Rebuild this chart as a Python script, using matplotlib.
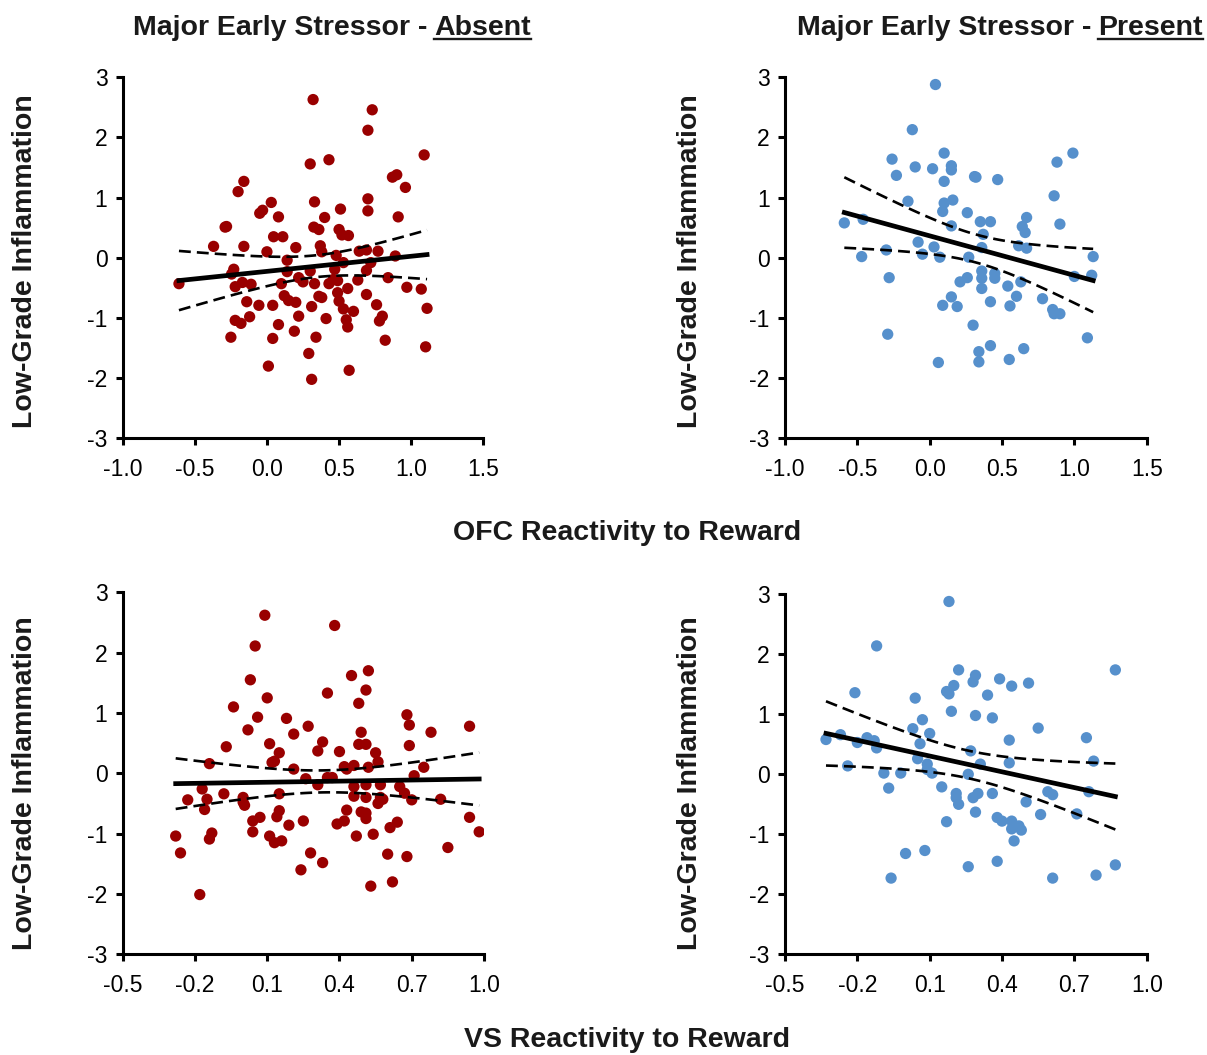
import numpy as np
import matplotlib
matplotlib.use("Agg")
import matplotlib.pyplot as plt

# OFC reactivity vs inflammation, early stressor absent
ofc_absent_x = [-0.61, -0.37, -0.29, -0.28, -0.245, -0.23, -0.22, -0.2, -0.16, -0.16, -0.17, -0.11,
                -0.14, -0.22, -0.18, -0.12, -0.25, -0.056, -0.05, -0.03, 0.03, 0.08, 0.0, 0.046,
                0.11, 0.2, 0.14, 0.14, 0.1, 0.04, 0.12, 0.15, 0.2, 0.08, 0.04, 0.01, 0.19, 0.22,
                0.22, 0.25, 0.3, 0.32, 0.43, 0.33, 0.325, 0.36, 0.4, 0.37, 0.38, 0.3, 0.33, 0.36,
                0.38, 0.31, 0.41, 0.34, 0.29, 0.31, 0.43, 0.47, 0.46, 0.49, 0.48, 0.53, 0.5, 0.52,
                0.565, 0.51, 0.49, 0.5, 0.53, 0.56, 0.55, 0.56, 0.6, 0.57, 0.63, 0.64, 0.69, 0.69,
                0.72, 0.69, 0.7, 0.7, 0.7, 0.73, 0.77, 0.76, 0.8, 0.78, 0.82, 0.84, 0.89, 0.91,
                0.87, 0.9, 0.96, 0.97, 1.07, 1.11, 1.09, 1.1]
ofc_absent_y = [-0.43, 0.19, 0.51, 0.52, -0.27, -0.19, -0.48, 1.1, 1.27, 0.19, -0.41, -0.44,
                -0.73, -1.04, -1.09, -0.98, -1.32, -0.79, 0.74, 0.79, 0.92, 0.68, 0.1, 0.35,
                0.35, 0.17, -0.04, -0.23, -0.43, -0.79, -0.63, -0.71, -0.74, -1.11, -1.34, -1.8,
                -1.22, -0.97, -0.33, -0.4, 1.56, 2.63, 1.63, 0.93, 0.51, 0.47, 0.67, 0.2, 0.1,
                -0.22, -0.43, -0.64, -0.66, -0.81, -1.01, -1.32, -1.59, -2.02, -0.43, -0.19,
                -0.36, -0.38, 0.04, -0.08, 0.47, 0.38, 0.37, 0.81, -0.58, -0.72, -0.85, -0.51,
                -1.03, -1.15, -0.89, -1.87, -0.37, 0.11, 0.13, -0.21, -0.08, -0.61, 0.78, 0.98,
                2.12, 2.46, 0.11, -0.78, -0.97, -1.05, -1.37, -0.33, 0.03, 0.68, 1.34, 1.38,
                1.17, -0.49, -0.52, -0.84, 1.71, -1.48]

# OFC reactivity vs inflammation, early stressor present
ofc_present_x = [-0.59, -0.46, -0.47, -0.3, -0.28, -0.29, -0.26, -0.23, -0.12, -0.15, -0.1, -0.08,
                 -0.05, 0.02, 0.04, 0.03, 0.07, 0.06, 0.09, 0.09, 0.1, 0.1, 0.1, 0.15, 0.15,
                 0.16, 0.15, 0.15, 0.19, 0.21, 0.26, 0.26, 0.27, 0.3, 0.31, 0.32, 0.34, 0.34,
                 0.35, 0.37, 0.36, 0.36, 0.36, 0.36, 0.42, 0.42, 0.42, 0.45, 0.45, 0.47, 0.54,
                 0.555, 0.55, 0.6, 0.615, 0.63, 0.64, 0.66, 0.67, 0.67, 0.65, 0.78, 0.85, 0.86,
                 0.9, 0.86, 0.88, 0.9, 0.99, 1.0, 1.09, 1.12, 1.13]
ofc_present_y = [0.58, 0.64, 0.02, 0.13, -0.33, -1.27, 1.64, 1.37, 2.13, 0.94, 1.51, 0.26, 0.06,
                 1.48, 2.88, 0.18, 0.01, -1.74, -0.79, 0.77, 0.91, 1.27, 1.74, 1.53, 1.46, 0.96,
                 0.53, -0.65, -0.81, -0.4, -0.33, 0.75, 0.01, -1.12, 1.35, 1.34, -1.56, -1.73,
                 0.6, 0.39, 0.17, -0.22, -0.34, -0.51, 0.6, -0.73, -1.46, -0.26, -0.34, 1.3,
                 -0.47, -0.8, -1.69, -0.64, 0.2, -0.4, 0.52, 0.42, 0.67, 0.16, -1.51, -0.68,
                 -0.86, -0.93, -0.93, 1.03, 1.59, 0.56, 1.74, -0.31, -1.33, -0.29, 0.02]

# VS reactivity vs inflammation, early stressor absent
vs_absent_x = [-0.28, -0.26, -0.23, -0.18, -0.17, -0.15, -0.16, -0.14, -0.14, -0.13, -0.08, -0.07,
               -0.04, 0.0, 0.0, 0.006, 0.02, 0.03, 0.04, 0.04, 0.05, 0.06, 0.07, 0.09, 0.1,
               0.11, 0.11, 0.13, 0.12, 0.13, 0.15, 0.15, 0.15, 0.14, 0.16, 0.18, 0.19, 0.21,
               0.21, 0.24, 0.25, 0.26, 0.27, 0.28, 0.31, 0.31, 0.33, 0.33, 0.35, 0.35, 0.37,
               0.38, 0.39, 0.4, 0.42, 0.42, 0.43, 0.43, 0.45, 0.46, 0.46, 0.46, 0.47, 0.48,
               0.49, 0.48, 0.49, 0.51, 0.52, 0.51, 0.51, 0.51, 0.51, 0.51, 0.52, 0.53, 0.54,
               0.55, 0.56, 0.57, 0.57, 0.56, 0.58, 0.6, 0.61, 0.62, 0.64, 0.65, 0.67, 0.68,
               0.69, 0.69, 0.68, 0.7, 0.71, 0.75, 0.78, 0.82, 0.85, 0.94, 0.94, 0.98]
vs_absent_y = [-1.04, -1.32, -0.44, -2.01, -0.26, -0.43, -0.6, 0.16, -1.09, -0.99, -0.34, 0.44,
               1.1, -0.4, -0.48, -0.53, 0.72, 1.55, -0.79, -0.97, 2.11, 0.93, -0.73, 2.62,
               1.25, 0.49, -1.04, -1.15, 0.18, 0.2, 0.34, -0.34, -0.62, -0.72, -1.12, 0.91,
               -0.86, 0.65, 0.07, -1.6, -0.79, -0.09, 0.78, -1.32, -0.19, 0.37, 0.52, -1.48,
               -0.07, 1.33, -0.07, 2.45, -0.84, 0.36, -0.79, 0.11, 0.07, -0.61, 1.62, 0.13,
               -0.22, -0.38, -1.04, 1.16, 0.68, 0.48, -0.64, 1.38, 1.7, 0.48, -0.19, -0.4,
               -0.66, -0.75, 0.1, -1.87, -1.01, 0.34, 0.19, -0.19, -0.4, -0.5, -0.43, -1.34,
               -0.9, -1.8, -0.81, -0.22, -0.33, 0.97, 0.8, 0.46, -1.38, -0.44, -0.04, 0.1, 0.68,
               -0.43, -1.23, 0.78, -0.73, -0.97]

# VS reactivity vs inflammation, early stressor present
vs_present_x = [-0.33, -0.27, -0.24, -0.21, -0.2, -0.16, -0.13, -0.12, -0.12, -0.09, -0.07, -0.06,
                -0.02, 0.0, 0.03, 0.04, 0.05, 0.06, 0.07, 0.08, 0.09, 0.09, 0.1, 0.11, 0.15,
                0.17, 0.18, 0.18, 0.17, 0.19, 0.2, 0.21, 0.21, 0.22, 0.22, 0.26, 0.26, 0.27,
                0.28, 0.29, 0.29, 0.28, 0.29, 0.3, 0.31, 0.34, 0.36, 0.36, 0.38, 0.39, 0.38,
                0.4, 0.43, 0.43, 0.44, 0.44, 0.44, 0.45, 0.47, 0.48, 0.5, 0.51, 0.55, 0.56,
                0.59, 0.61, 0.61, 0.71, 0.75, 0.76, 0.78, 0.79, 0.87, 0.87]
vs_present_y = [0.58, 0.66, 0.14, 1.36, 0.53, 0.61, 0.56, 0.44, 2.14, 0.02, -0.23, -1.73, 0.02,
                -1.32, 0.76, 1.27, 0.26, 0.51, 0.91, -1.27, 0.17, 0.08, 0.68, 0.02, -0.21, 1.38,
                2.88, 1.34, -0.79, 1.05, 1.48, -0.32, -0.39, -0.5, 1.74, 0.0, -1.54, 0.39, 1.54,
                1.65, 0.98, -0.39, -0.63, -0.32, 0.17, 1.32, 0.94, -0.32, -0.72, 1.59, -1.45,
                -0.78, 0.57, 0.19, 1.47, -0.78, -0.91, -1.11, -0.86, -0.93, -0.46, 1.52, 0.77,
                -0.67, -0.29, -0.34, -1.73, -0.66, 0.61, -0.29, 0.22, -1.68, 1.74, -1.51]

ofc_ticks = [-1.0, -0.5, 0.0, 0.5, 1.0, 1.5]
vs_ticks = [-0.5, -0.2, 0.1, 0.4, 0.7, 1.0]
y_ticks = [-3, -2, -1, 0, 1, 2, 3]

red = "#990000"
blue = "#5690cc"

plt.rcParams["font.family"] = ["Liberation Sans", "DejaVu Sans"]

W, H = 1207, 1055
fig = plt.figure(figsize=(W / 100, H / 100), dpi=100)


def px_axes(x0, x1, y0, y1):
    # pixel box (top-left origin) -> figure fraction
    return fig.add_axes([x0 / W, 1 - y1 / H, (x1 - x0) / W, (y1 - y0) / H])


def panel(ax, x, y, color, xticks, xfmt):
    x = np.asarray(x)
    y = np.asarray(y)
    ax.scatter(x, y, s=66, color=color, edgecolors="none", zorder=2)

    # least squares fit with 95% confidence band
    n = len(x)
    slope, icpt = np.polyfit(x, y, 1)
    resid = y - (slope * x + icpt)
    s = np.sqrt(np.sum(resid ** 2) / (n - 2))
    xs = np.linspace(x.min(), x.max(), 100)
    fit = slope * xs + icpt
    se = s * np.sqrt(1 / n + (xs - x.mean()) ** 2 / np.sum((x - x.mean()) ** 2))
    ax.plot(xs, fit, color="black", lw=3.4, zorder=3)
    ax.plot(xs, fit + 1.98 * se, color="black", lw=1.9, dashes=(4.5, 2.3), zorder=3)
    ax.plot(xs, fit - 1.98 * se, color="black", lw=1.9, dashes=(4.5, 2.3), zorder=3)

    ax.set_xlim(xticks[0], xticks[-1])
    ax.set_ylim(-3, 3)
    ax.set_xticks(xticks)
    ax.set_xticklabels([xfmt % t for t in xticks])
    ax.set_yticks(y_ticks)
    ax.set_yticklabels([str(t) for t in y_ticks])
    for side in ["top", "right"]:
        ax.spines[side].set_visible(False)
    for side in ["left", "bottom"]:
        ax.spines[side].set_linewidth(2.2)
    ax.tick_params(direction="out", length=5, width=2.2, labelsize=16.5)
    ax.tick_params(axis="x", pad=9)
    ax.tick_params(axis="y", pad=6)
    ax.set_facecolor("none")


ax1 = px_axes(122.7, 483.3, 77.3, 438.3)
ax2 = px_axes(785, 1146.7, 77.3, 438.3)
ax3 = px_axes(122.7, 484, 592.3, 954.3)
ax4 = px_axes(785, 1146.7, 594.3, 954.3)

panel(ax1, ofc_absent_x, ofc_absent_y, red, ofc_ticks, "%.1f")
panel(ax2, ofc_present_x, ofc_present_y, blue, ofc_ticks, "%.1f")
panel(ax3, vs_absent_x, vs_absent_y, red, vs_ticks, "%.1f")
panel(ax4, vs_present_x, vs_present_y, blue, vs_ticks, "%.1f")

lab = dict(fontsize=20.5, fontweight="bold", color="#1a1a1a")

for xc, yc in [(25, 261), (690, 261), (25, 783), (690, 783)]:
    fig.text(xc / W, 1 - yc / H, "Low-Grade Inflammation", rotation=90,
             ha="center", va="center", **lab)

fig.text(627 / W, 1 - 533 / H, "OFC Reactivity to Reward", ha="center", va="center", **lab)
fig.text(627 / W, 1 - 1040 / H, "VS Reactivity to Reward", ha="center", va="center", **lab)

# titles with underlined last word
renderer = fig.canvas.get_renderer()
for x_start, word in [(133, "Absent"), (797, "Present")]:
    t1 = fig.text(x_start / W, 1 - 35 / H, "Major Early Stressor -", ha="left", va="baseline", **lab)
    bb = t1.get_window_extent(renderer)
    t2 = fig.text((bb.x1 + 7) / W, 1 - 35 / H, word, ha="left", va="baseline", **lab)
    bb2 = t2.get_window_extent(renderer)
    fig.add_artist(plt.Line2D([bb2.x0 / W, bb2.x1 / W], [(H - 38.5) / H, (H - 38.5) / H],
                              color="#1a1a1a", lw=1.7, transform=fig.transFigure))

fig.savefig("out.png", dpi=100, facecolor="white")
